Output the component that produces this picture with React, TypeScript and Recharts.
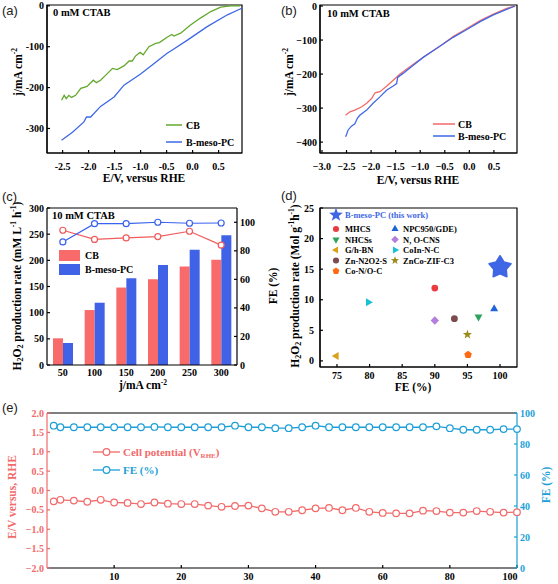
import React from 'react';
import {
  LineChart, Line, ComposedChart, Bar, ScatterChart, Scatter,
  XAxis, YAxis, ReferenceArea, ReferenceLine,
} from 'recharts';

const SERIF = '"Liberation Serif", "Times New Roman", serif';
const SANS = '"Liberation Sans", Arial, sans-serif';

const GREEN = '#63a82b';
const BLUE = '#3f68e6';
const RED = '#f26a6a';
const CYAN = '#1c9fd8';

// (a) 0 mM CTAB, LSV
const aCbV = [-2.52, -2.47, -2.43, -2.38, -2.33, -2.25, -2.15, -2.03, -1.91, -1.85, -1.77, -1.65, -1.54, -1.45, -1.32, -1.22, -1.16, -1.10, -1.01, -0.95, -0.84, -0.71, -0.64, -0.49, -0.40, -0.36, -0.23, -0.04, 0.15, 0.35, 0.54, 0.73, 0.92];
const aCbJ = [-231, -219, -227, -219, -224, -219, -202, -197, -182, -188, -182, -167, -153, -156, -147, -135, -135, -123, -114, -120, -100, -92, -90, -77, -70, -74, -67, -47, -30, -14, -3, 0, 0];
const aPcV = [-2.52, -2.31, -2.09, -2.04, -1.96, -1.77, -1.51, -1.32, -1.0, -0.74, -0.49, -0.39, -0.10, 0.28, 0.67, 0.96];
const aPcJ = [-329, -309, -284, -272, -272, -246, -223, -194, -167, -141, -116, -108, -84, -51, -22, -5];

// (b) 10 mM CTAB, LSV
const bCbV = [-2.52, -2.43, -2.33, -2.19, -2.09, -1.99, -1.92, -1.82, -1.68, -1.55, -1.41, -1.28, -1.07, -0.87, -0.60, -0.33, -0.05, 0.22, 0.49, 0.76, 0.93];
const bCbJ = [-321, -311, -306, -296, -286, -272, -255, -252, -235, -218, -200, -186, -164, -144, -118, -90, -66, -43, -24, -7, 0];
const bPcV = [-2.52, -2.50, -2.47, -2.40, -2.33, -2.28, -2.23, -2.09, -1.96, -1.82, -1.68, -1.55, -1.48, -1.46, -1.35, -1.14, -0.94, -0.67, -0.33, -0.05, 0.22, 0.49, 0.76, 0.93];
const bPcJ = [-384, -378, -365, -353, -346, -330, -321, -306, -286, -267, -247, -235, -228, -210, -198, -174, -151, -125, -92, -69, -46, -26, -10, 0];

// (c) production rate + FE
const cCurrent = ['50', '100', '150', '200', '250', '300'];
const cCbRate = [51, 105, 148, 164, 188, 201];
const cPcRate = [42, 119, 166, 191, 220, 248];
const cCbFe = [94.4, 88, 89, 90, 93.7, 84];
const cPcFe = [86.2, 99, 99, 100, 99.3, 99.5];

// (d) comparison with literature
const dNames = ['B-meso-PC (this work)', 'MHCS', 'NPC950/GDE)', 'NHCSs', 'N, O-CNS', 'G/h-BN', 'CoIn-N-C', 'Zn-N2O2-S', 'ZnCo-ZIF-C3', 'Co-N/O-C'];
const dFe = [100, 90, 99.1, 96.7, 90, 74.9, 79.8, 93, 95, 95.1];
const dRate = [15.3, 11.9, 8.5, 7.2, 6.6, 0.8, 9.6, 6.9, 4.3, 1.0];
const dColors = ['#3f66e4', '#ea3b3f', '#1f63d8', '#2ea35e', '#b57ddd', '#d9a11c', '#18c0d0', '#7b4b4e', '#9b8b1b', '#ff6a12'];
const dShapes = ['bigstar', 'circle', 'up', 'down', 'diamond', 'left', 'right', 'circle', 'star', 'pentagon'];

// (e) stability test
const eTime = [1, 2, 4, 6, 8, 10, 12, 14, 16, 18, 20, 22, 24, 26, 28, 30, 32, 34, 36, 38, 40, 44, 48, 52, 56, 60, 64, 68, 72, 76, 80, 84, 88, 92, 96, 100];
const ePot = [-0.28, -0.24, -0.26, -0.29, -0.24, -0.31, -0.32, -0.35, -0.31, -0.34, -0.35, -0.35, -0.39, -0.42, -0.40, -0.39, -0.46, -0.55, -0.55, -0.51, -0.46, -0.45, -0.51, -0.45, -0.55, -0.58, -0.59, -0.59, -0.52, -0.53, -0.57, -0.57, -0.53, -0.55, -0.57, -0.56];
const eFe = [91.8, 90.8, 90.8, 90.8, 90.8, 90.8, 90.8, 90.8, 91.0, 90.8, 90.8, 90.8, 90.8, 90.8, 91.8, 90.8, 90.8, 90.2, 90.2, 90.8, 91.8, 90.8, 90.8, 90.8, 90.8, 90.8, 90.8, 90.8, 90.8, 91.4, 90.2, 89.2, 89.2, 89.2, 89.6, 89.6];
const eTicks = [10, 20, 30, 40, 60, 80, 100];

// the time axis is compressed after 40 (2 per step before, 4 per step after)
const brk = (t: number) => (t <= 40 ? t / 2 : 20 + (t - 40) / 4);
const unbrk = (p: number) => (p <= 20 ? p * 2 : 40 + (p - 20) * 4);

const zip = (xs: number[], ys: number[]) => xs.map((v, i) => ({ v, j: ys[i] }));
const aCb = zip(aCbV, aCbJ);
const aPc = zip(aPcV, aPcJ);
const bCb = zip(bCbV, bCbJ);
const bPc = zip(bPcV, bPcJ);
const cRows = cCurrent.map((c, i) => ({ c, cbRate: cCbRate[i], pcRate: cPcRate[i], cbFe: cCbFe[i], pcFe: cPcFe[i] }));
const eRows = eTime.map((t, i) => ({ p: brk(t), pot: ePot[i], fe: eFe[i] }));

const tick = (fill = '#000') => ({ fontSize: 10, fontFamily: SERIF, fontWeight: 700, fill });
const axisLine = (stroke = '#000') => ({ stroke, strokeWidth: 1.2 });
const fmt1 = (v: number) => v.toFixed(1);
const minus = (s: string) => s.replace('-', '\u2212');

function poly(x: number, y: number, n: number, r: number, rot: number, inner = 0) {
  const m = inner ? n * 2 : n;
  const pts: string[] = [];
  for (let i = 0; i < m; i++) {
    const rr = inner && i % 2 ? inner : r;
    const a = rot + (i * 2 * Math.PI) / m;
    pts.push(`${(x + rr * Math.sin(a)).toFixed(2)},${(y - rr * Math.cos(a)).toFixed(2)}`);
  }
  return pts.join(' ');
}

function Marker({ kind, x, y, color, s = 4 }: { kind: string; x: number; y: number; color: string; s?: number }) {
  switch (kind) {
    case 'circle': return <circle cx={x} cy={y} r={s * 0.85} fill={color} />;
    case 'up': return <polygon points={poly(x, y, 3, s * 1.15, 0)} fill={color} />;
    case 'down': return <polygon points={poly(x, y, 3, s * 1.15, Math.PI)} fill={color} />;
    case 'left': return <polygon points={poly(x, y, 3, s * 1.15, -Math.PI / 2)} fill={color} />;
    case 'right': return <polygon points={poly(x, y, 3, s * 1.15, Math.PI / 2)} fill={color} />;
    case 'diamond': return <polygon points={poly(x, y, 4, s * 1.05, 0)} fill={color} />;
    case 'pentagon': return <polygon points={poly(x, y, 5, s, 0)} fill={color} />;
    case 'star': return <polygon points={poly(x, y, 5, s * 1.2, 0, s * 0.5)} fill={color} />;
    default: return <polygon points={poly(x, y, 5, s * 2.9, 0, s * 1.65)} fill={color} stroke={color} strokeWidth={1.5} strokeLinejoin="round" />;
  }
}

const shapeFor = (kind: string, color: string) => (props: any) => (
  <Marker kind={kind} x={props.cx} y={props.cy} color={color} />
);

// last label of the time axis sits left of the corner, like the original
const TimeTick = (props: any) => {
  const { x, y, payload } = props;
  const last = payload.value >= 35;
  return (
    <text x={x - (last ? 7 : 0)} y={y} dy="0.71em" textAnchor="middle" {...tick()}>
      {unbrk(payload.value)}
    </text>
  );
};

function PanelA() {
  return (
    <LineChart width={260} height={190} margin={{ top: 5, right: 18, bottom: 0, left: 0 }}>
      <XAxis type="number" dataKey="v" domain={[-2.8, 0.95]} allowDataOverflow ticks={[-2.5, -2, -1.5, -1, -0.5, 0, 0.5]}
        tickFormatter={fmt1} height={37} axisLine={axisLine()} tickLine={axisLine()} tick={tick()} tickSize={-3} tickMargin={13} />
      <YAxis type="number" domain={[-360, 2]} allowDataOverflow ticks={[-300, -200, -100, 0]} width={47}
        axisLine={axisLine()} tickLine={axisLine()} tick={tick()} tickSize={-3} tickMargin={6} />
      <ReferenceArea x1={-2.8} x2={0.95} y1={-360} y2={2} fill="none" stroke="#000" strokeWidth={1.2} />
      <Line data={aCb} dataKey="j" stroke={GREEN} strokeWidth={1.3} dot={false} isAnimationActive={false} />
      <Line data={aPc} dataKey="j" stroke={BLUE} strokeWidth={1.3} dot={false} isAnimationActive={false} />
    </LineChart>
  );
}

function PanelB() {
  return (
    <LineChart width={278} height={190} margin={{ top: 5, right: 41, bottom: 0, left: 0 }}>
      <XAxis type="number" dataKey="v" domain={[-3.04, 0.97]} allowDataOverflow ticks={[-3, -2.5, -2, -1.5, -1, -0.5, 0, 0.5]}
        tickFormatter={(v: number) => minus(fmt1(v))} height={37} axisLine={axisLine()} tickLine={axisLine()} tick={tick()} tickSize={-3} tickMargin={13} />
      <YAxis type="number" domain={[-432, 3]} allowDataOverflow ticks={[-400, -300, -200, -100, 0]} width={40}
        tickFormatter={(v: number) => minus(String(v))} axisLine={axisLine()} tickLine={axisLine()} tick={tick()} tickSize={-3} tickMargin={6} />
      <ReferenceArea x1={-3.04} x2={0.97} y1={-432} y2={3} fill="none" stroke="#000" strokeWidth={1.2} />
      <Line data={bCb} dataKey="j" stroke={RED} strokeWidth={1.3} dot={false} isAnimationActive={false} />
      <Line data={bPc} dataKey="j" stroke={BLUE} strokeWidth={1.3} dot={false} isAnimationActive={false} />
    </LineChart>
  );
}

function PanelC() {
  return (
    <ComposedChart width={280} height={215} data={cRows} margin={{ top: 18, right: 0, bottom: 0, left: 0 }} barGap={0}>
      <XAxis dataKey="c" height={40} axisLine={axisLine()} tickLine={false} tick={tick()} tickSize={0} tickMargin={4} />
      <YAxis yAxisId="l" domain={[0, 300]} ticks={[0, 50, 100, 150, 200, 250, 300]} width={47}
        axisLine={axisLine()} tickLine={axisLine()} tick={tick()} tickSize={-3} tickMargin={6} />
      <YAxis yAxisId="r" orientation="right" domain={[0, 110]} ticks={[0, 20, 40, 60, 80, 100]} width={43}
        axisLine={axisLine()} tickLine={axisLine()} tick={tick()} tickSize={-3} tickMargin={6} />
      <ReferenceLine yAxisId="l" y={300} stroke="#000" strokeWidth={1.2} />
      <Bar yAxisId="l" dataKey="cbRate" fill="#f96b6b" barSize={10} isAnimationActive={false} />
      <Bar yAxisId="l" dataKey="pcRate" fill="#3f62e6" barSize={10} isAnimationActive={false} />
      <Line yAxisId="r" dataKey="cbFe" stroke="#f05b5b" strokeWidth={1.2} isAnimationActive={false}
        dot={{ r: 3, fill: '#fff', stroke: '#f05b5b', strokeWidth: 1.2 }} />
      <Line yAxisId="r" dataKey="pcFe" stroke="#3a62f0" strokeWidth={1.2} isAnimationActive={false}
        dot={{ r: 3, fill: '#fff', stroke: '#3a62f0', strokeWidth: 1.2 }} />
    </ComposedChart>
  );
}

function PanelD() {
  return (
    <ScatterChart width={278} height={215} margin={{ top: 18, right: 41, bottom: 0, left: 0 }}>
      <XAxis type="number" dataKey="fe" domain={[72.4, 102.6]} allowDataOverflow ticks={[75, 80, 85, 90, 95, 100]} height={38}
        axisLine={axisLine()} tickLine={axisLine()} tick={tick()} tickSize={-3} tickMargin={8} />
      <YAxis type="number" dataKey="rate" domain={[-1, 25]} allowDataOverflow ticks={[0, 5, 10, 15, 20, 25]} width={40}
        axisLine={axisLine()} tickLine={axisLine()} tick={tick()} tickSize={-3} tickMargin={9} />
      <ReferenceArea x1={72.4} x2={102.6} y1={-1} y2={25} fill="none" stroke="#000" strokeWidth={1.2} />
      {dNames.map((n, i) => (
        <Scatter key={n} name={n} data={[{ fe: dFe[i], rate: dRate[i] }]} shape={shapeFor(dShapes[i], dColors[i])} isAnimationActive={false} />
      ))}
    </ScatterChart>
  );
}

function PanelE() {
  return (
    <LineChart width={558} height={179} data={eRows} margin={{ top: 8, right: 0, bottom: 0, left: 0 }}>
      <XAxis type="number" dataKey="p" domain={[0, 35]} ticks={eTicks.map(brk)} tick={<TimeTick />}
        height={16} axisLine={axisLine()} tickLine={axisLine()} tickSize={-3} tickMargin={8} />
      <YAxis yAxisId="l" domain={[-2, 2]} ticks={[-2, -1.5, -1, -0.5, 0, 0.5, 1, 1.5, 2]} width={47}
        tickFormatter={(v: number) => minus(fmt1(v))} axisLine={axisLine(RED)} tickLine={axisLine(RED)} tick={tick(RED)} tickSize={-3} tickMargin={6} />
      <YAxis yAxisId="r" orientation="right" domain={[0, 100]} ticks={[0, 20, 40, 60, 80, 100]} width={41}
        axisLine={axisLine(CYAN)} tickLine={axisLine(CYAN)} tick={tick(CYAN)} tickSize={-3} tickMargin={6} />
      <ReferenceLine yAxisId="l" y={2} stroke="#000" strokeWidth={1.2} />
      <Line yAxisId="l" dataKey="pot" stroke={RED} strokeWidth={1.3} isAnimationActive={false}
        dot={{ r: 3.3, fill: '#fff', stroke: RED, strokeWidth: 1.2 }} />
      <Line yAxisId="r" dataKey="fe" stroke={CYAN} strokeWidth={1.3} isAnimationActive={false}
        dot={{ r: 3.3, fill: '#fff', stroke: CYAN, strokeWidth: 1.2 }} />
    </LineChart>
  );
}

const T = { fontFamily: SERIF, fontWeight: 700 } as const;

function VTitle({ x, y, color = '#000', size = 11.5, children }: any) {
  return (
    <text transform={`translate(${x},${y}) rotate(-90)`} textAnchor="middle" dominantBaseline="central" fontSize={size} fill={color} {...T}>
      {children}
    </text>
  );
}

const Sup = ({ t }: { t: string }) => <tspan dy={-4} fontSize={7.5}>{t}</tspan>;

function Overlay() {
  const legD1 = [0, 1, 3, 5, 7, 9];
  const legD2 = [2, 4, 6, 8];
  return (
    <svg width={558} height={584} style={{ position: 'absolute', left: 0, top: 0, pointerEvents: 'none' }}>
      {/* panel letters */}
      {[['(a)', 2, 15], ['(b)', 281, 15], ['(c)', 2, 201], ['(d)', 281, 200], ['(e)', 2, 412]].map(([s, x, y]) => (
        <text key={s as string} x={x as number} y={y as number} fontFamily={SANS} fontSize={13} fill="#222">{s}</text>
      ))}

      {/* (a) */}
      <text x={53} y={16} fontSize={10.5} {...T}>0 mM CTAB</text>
      <VTitle x={18} y={72}>j/mA cm<Sup t="-2" /></VTitle>
      <text x={144} y={182} textAnchor="middle" fontSize={11.5} {...T}>E/V, versus RHE</text>
      <line x1={166} x2={182} y1={125} y2={125} stroke={GREEN} strokeWidth={1.5} />
      <text x={186} y={129} fontSize={10} {...T}>CB</text>
      <line x1={166} x2={182} y1={142} y2={142} stroke={BLUE} strokeWidth={1.5} />
      <text x={186} y={146} fontSize={10} {...T}>B-meso-PC</text>

      {/* (b) */}
      <text x={327} y={17} fontSize={10.5} {...T}>10 mM CTAB</text>
      <VTitle x={289} y={72}>j/mA cm<Sup t="-2" /></VTitle>
      <text x={418} y={184} textAnchor="middle" fontSize={11.5} {...T}>E/V, versus RHE</text>
      <line x1={433} x2={455} y1={124} y2={124} stroke={RED} strokeWidth={1.5} />
      <text x={458} y={128} fontSize={10} {...T}>CB</text>
      <line x1={433} x2={455} y1={136} y2={136} stroke={BLUE} strokeWidth={1.5} />
      <text x={458} y={140} fontSize={10} {...T}>B-meso-PC</text>

      {/* (c) */}
      <text x={52} y={219} fontSize={10.5} {...T}>10 mM CTAB</text>
      <rect x={59} y={250} width={21} height={11} fill="#f96b6b" />
      <text x={85} y={259} fontSize={10} {...T}>CB</text>
      <rect x={59} y={264} width={21} height={11} fill="#3f62e6" />
      <text x={85} y={273} fontSize={10} {...T}>B-meso-PC</text>
      <VTitle x={17} y={286}>
        H<tspan dy={3} fontSize={8}>2</tspan><tspan dy={-3}>O</tspan><tspan dy={3} fontSize={8}>2</tspan>
        <tspan dy={-3}> production rate (mM L</tspan><Sup t="-1" /><tspan dy={4}> h</tspan><Sup t="-1" /><tspan dy={4}>)</tspan>
      </VTitle>
      <VTitle x={273} y={286}>FE (%)</VTitle>
      <text x={143} y={389} textAnchor="middle" fontSize={11.5} {...T}>j/mA cm<Sup t="-2" /></text>

      {/* (d) */}
      <VTitle x={295} y={286}>
        H<tspan dy={3} fontSize={8}>2</tspan><tspan dy={-3}>O</tspan><tspan dy={3} fontSize={8}>2</tspan>
        <tspan dy={-3}> production rate (Mol g</tspan><Sup t="-1" /><tspan dy={4}>h</tspan><Sup t="-1" /><tspan dy={4}>)</tspan>
      </VTitle>
      <text x={413} y={391} textAnchor="middle" fontSize={11.5} {...T}>FE (%)</text>
      {legD1.map((k, r) => {
        const y = r === 0 ? 215 : 218.5 + r * 10.5;
        return (
          <g key={k}>
            <Marker kind={dShapes[k] === 'bigstar' ? 'star' : dShapes[k]} x={336} y={y} color={dColors[k]} s={dShapes[k] === 'bigstar' ? 6 : 3.6} />
            <text x={345} y={y + 3} fontSize={8.5} fill={k === 0 ? dColors[0] : '#000'} {...T}>{dNames[k]}</text>
          </g>
        );
      })}
      {legD2.map((k, r) => {
        const y = 229 + r * 10.5;
        return (
          <g key={k}>
            <Marker kind={dShapes[k]} x={395} y={y} color={dColors[k]} s={3.6} />
            <text x={403} y={y + 3} fontSize={8.5} {...T}>{dNames[k]}</text>
          </g>
        );
      })}

      {/* (e) */}
      <VTitle x={12} y={497} color={RED}>E/V versus, RHE</VTitle>
      <VTitle x={546} y={485} color={CYAN}>FE (%)</VTitle>
      <line x1={93} x2={120} y1={452} y2={452} stroke={RED} strokeWidth={1.3} />
      <circle cx={106.5} cy={452} r={3.3} fill="#fff" stroke={RED} strokeWidth={1.2} />
      <text x={123} y={456} fontSize={11} fill={RED} {...T}>Cell potential (V<tspan dy={2} fontSize={7}>RHE</tspan><tspan dy={-2}>)</tspan></text>
      <line x1={93} x2={120} y1={470} y2={470} stroke={CYAN} strokeWidth={1.3} />
      <circle cx={106.5} cy={470} r={3.3} fill="#fff" stroke={CYAN} strokeWidth={1.2} />
      <text x={123} y={474} fontSize={11} fill={CYAN} {...T}>FE (%)</text>
    </svg>
  );
}

export default function App() {
  return (
    <div style={{ position: 'absolute', left: 0, top: 0, width: 558, height: 584, background: '#fff', overflow: 'hidden' }}>
      <div style={{ position: 'absolute', left: 0, top: 0 }}><PanelA /></div>
      <div style={{ position: 'absolute', left: 280, top: 0 }}><PanelB /></div>
      <div style={{ position: 'absolute', left: 0, top: 190 }}><PanelC /></div>
      <div style={{ position: 'absolute', left: 280, top: 190 }}><PanelD /></div>
      <div style={{ position: 'absolute', left: 0, top: 405 }}><PanelE /></div>
      <Overlay />
    </div>
  );
}
